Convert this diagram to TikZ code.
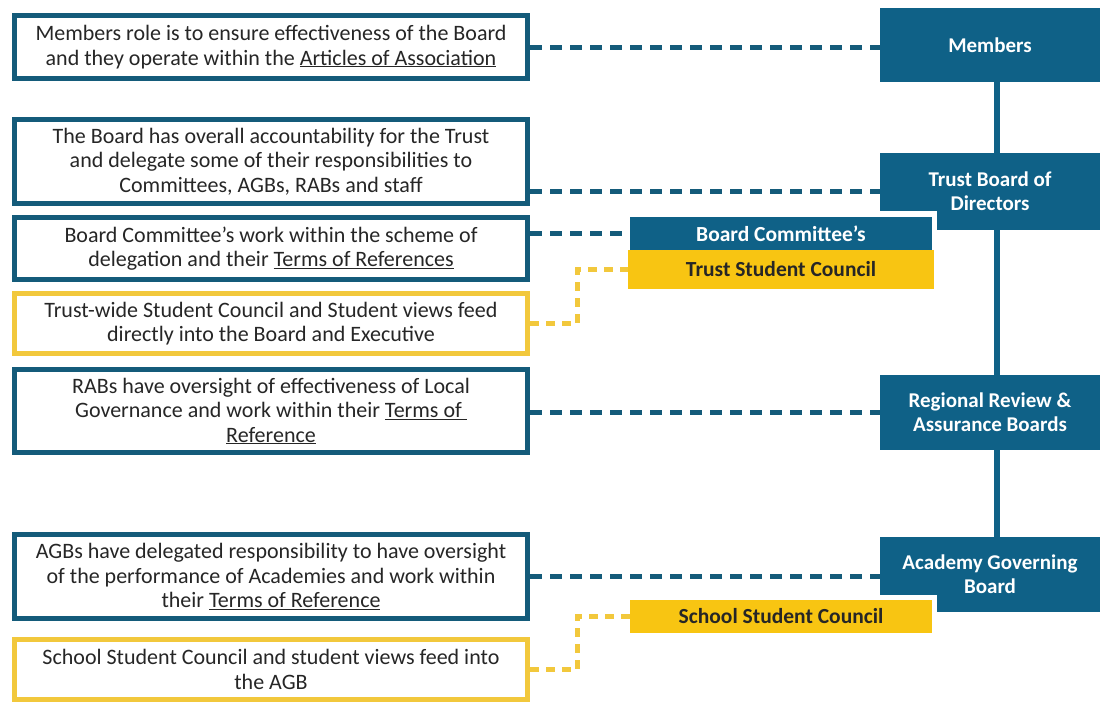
\documentclass[tikz,border=0pt]{standalone}
\usepackage{fontspec}
\setmainfont{Carlito}
\definecolor{navy}{HTML}{0F6187}
\definecolor{navyb}{HTML}{145B7A}
\definecolor{gold}{HTML}{F8C512}
\definecolor{goldb}{HTML}{F2C83C}
\definecolor{ink}{HTML}{262626}
\begin{document}
\begin{tikzpicture}[x=1pt,y=-1pt,
  lbox/.style={draw=navyb, line width=5pt, fill=white, minimum width=513pt,
    inner sep=0pt, align=center, text=ink, font=\fontsize{22}{24.5}\selectfont},
  ybox/.style={lbox, draw=goldb},
  rbox/.style={fill=navy, minimum width=220pt, minimum height=75pt, inner sep=0pt,
    align=center, text=white, font=\bfseries\fontsize{21}{24}\selectfont},
  sbox/.style={fill=navy, minimum width=302pt, minimum height=33pt, inner sep=0pt,
    text=white, font=\bfseries\fontsize{21.5}{24}\selectfont},
  gbox/.style={sbox, fill=gold, text=ink},
  bdash/.style={draw=navyb, line width=5pt, dash pattern=on 12pt off 8pt},
  ydash/.style={draw=goldb, line width=5pt, dash pattern=on 9pt off 7pt},
  vline/.style={draw=navy, line width=6pt}
]
\fill[white] (0,0) rectangle (1102,704);

% left description boxes
\node[lbox, minimum height=63pt] (b1) at (271,47)
  {Members role is to ensure effectiveness of the Board\\
   and they operate within the \underline{Articles of Association}};
\node[lbox, minimum height=84pt] (b2) at (271,161.5)
  {The Board has overall accountability for the Trust\\
   and delegate some of their responsibilities to\\
   Committees, AGBs, RABs and staff};
\node[lbox, minimum height=62pt] (b3) at (271,248.5)
  {Board Committee’s work within the scheme of\\
   delegation and their \underline{Terms of References}};
\node[ybox, minimum height=60pt] (b4) at (271,323.5)
  {Trust-wide Student Council and Student views feed\\
   directly into the Board and Executive};
\node[lbox, minimum height=83pt] (b5) at (271,411)
  {RABs have oversight of effectiveness of Local\\
   Governance and work within their \underline{Terms of\ }\\
   \underline{Reference}};
\node[lbox, minimum height=84pt] (b6) at (271,576.5)
  {AGBs have delegated responsibility to have oversight\\
   of the performance of Academies and work within\\
   their \underline{Terms of Reference}};
\node[ybox, minimum height=60pt] (b7) at (271,669.5)
  {School Student Council and student views feed into\\
   the AGB};

% right hierarchy boxes
\node[rbox, minimum height=74pt] (mem) at (990,45) {Members};
\node[rbox, minimum height=77pt] (tb) at (990,191.5) {Trust Board of\\Directors};
\node[rbox] (rrab) at (990,412.5) {Regional Review \&\\Assurance Boards};
\node[rbox] (agb) at (990,574.5) {Academy Governing\\Board};

% vertical spine
\draw[vline] ([xshift=7pt]mem.south) -- ([xshift=7pt]tb.north);
\draw[vline] ([xshift=7pt]tb.south) -- ([xshift=7pt]rrab.north);
\draw[vline] ([xshift=7pt]rrab.south) -- ([xshift=7pt]agb.north);

% committee / council boxes
\node[sbox] (bc) at (781,233.5) {Board Committee’s};
\fill[white] ([yshift=6pt]bc.north west) rectangle ([xshift=5pt]bc.south east);
\node[sbox] at (bc) {Board Committee’s};
\node[gbox, minimum width=306pt, minimum height=39pt] (tsc) at (781,269.5) {Trust Student Council};
\node[gbox] (ssc) at (781,616.5) {School Student Council};
\fill[white] ([yshift=5pt]ssc.north west) rectangle ([xshift=5pt,yshift=-5pt]ssc.south east);
\node[gbox] at (ssc) {School Student Council};

% dashed connectors
\draw[bdash] (b1.east) -- (b1.east -| mem.west);
\draw[bdash] (b2.east |- tb.west) -- (tb.west);
\draw[bdash] (b3.east |- bc.west) -- (bc.west);
\draw[bdash] (b5.east |- rrab.west) -- (rrab.west);
\draw[bdash] (b6.east) -- (b6.east -| agb.west);

\coordinate (yk) at (577,0);
\draw[ydash] (b4.east) -- (b4.east -| yk) |- (tsc.west);
\draw[ydash] (b7.east) -- (b7.east -| yk) |- (ssc.west);
\end{tikzpicture}
\end{document}
